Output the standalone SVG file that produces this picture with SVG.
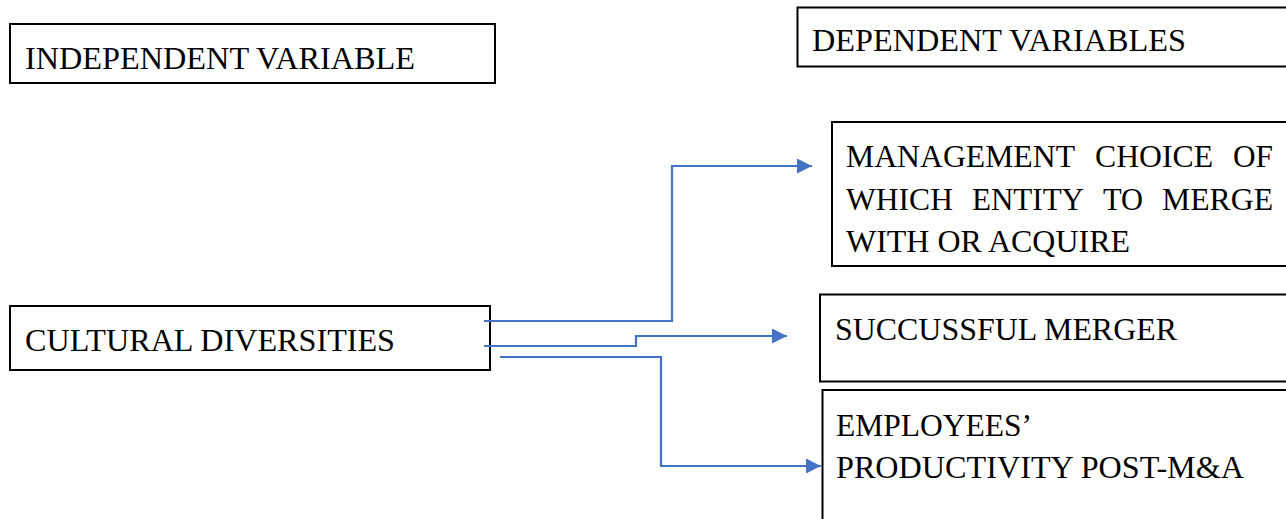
<svg xmlns="http://www.w3.org/2000/svg" width="1286" height="519" viewBox="0 0 1286 519">
<style>
.box{fill:#fff;stroke:#000;stroke-width:2}
.t{font-family:"Liberation Serif","Times New Roman",serif;font-size:31px;fill:#000}
.c{fill:none;stroke:#4472C4;stroke-width:2.2}
</style>
<defs>
<marker id="ah" markerUnits="userSpaceOnUse" markerWidth="16" markerHeight="16" refX="15" refY="7.5" orient="auto">
<path d="M0,0 L15,7.5 L0,15 z" fill="#4472C4"/>
</marker>
</defs>
<rect width="1286" height="519" fill="#fff"/>
<g id="independent">
<rect class="box" x="10" y="24" width="485" height="59"/>
<text class="t" x="25" y="68.5" textLength="390" lengthAdjust="spacingAndGlyphs">INDEPENDENT VARIABLE</text>
</g>
<g id="dependent">
<rect class="box" x="797.5" y="7.5" width="500" height="59"/>
<text class="t" x="812" y="50.5" textLength="374" lengthAdjust="spacingAndGlyphs">DEPENDENT VARIABLES</text>
</g>
<g id="management">
<rect class="box" x="832" y="122" width="470" height="144"/>
<text class="t" y="167"><tspan x="846" textLength="229" lengthAdjust="spacingAndGlyphs">MANAGEMENT</tspan><tspan x="1095" textLength="118" lengthAdjust="spacingAndGlyphs">CHOICE</tspan><tspan x="1233" textLength="40" lengthAdjust="spacingAndGlyphs">OF</tspan></text>
<text class="t" y="209.5"><tspan x="846" textLength="107" lengthAdjust="spacingAndGlyphs">WHICH</tspan><tspan x="972" textLength="112" lengthAdjust="spacingAndGlyphs">ENTITY</tspan><tspan x="1103" textLength="40" lengthAdjust="spacingAndGlyphs">TO</tspan><tspan x="1162" textLength="111" lengthAdjust="spacingAndGlyphs">MERGE</tspan></text>
<text class="t" x="846" y="252" textLength="284" lengthAdjust="spacingAndGlyphs">WITH OR ACQUIRE</text>
</g>
<g id="successful">
<rect class="box" x="820" y="294.5" width="480" height="87"/>
<text class="t" x="835" y="339.5" textLength="342" lengthAdjust="spacingAndGlyphs">SUCCUSSFUL MERGER</text>
</g>
<g id="employees">
<rect class="box" x="822.5" y="390" width="480" height="140"/>
<text class="t" x="836" y="435.5" textLength="196" lengthAdjust="spacingAndGlyphs">EMPLOYEES’</text>
<text class="t" x="836" y="477.5" textLength="408" lengthAdjust="spacingAndGlyphs">PRODUCTIVITY POST-M&amp;A</text>
</g>
<g id="cultural">
<rect class="box" x="10" y="306" width="480" height="64"/>
<text class="t" x="25" y="351" textLength="370" lengthAdjust="spacingAndGlyphs">CULTURAL DIVERSITIES</text>
</g>
<g id="connectors">
<polyline class="c" points="484,321 672,321 672,166 812,166" marker-end="url(#ah)"/>
<polyline class="c" points="484,346 636,346 636,336 787,336" marker-end="url(#ah)"/>
<polyline class="c" points="500,357 661,357 661,466 821,466" marker-end="url(#ah)"/>
</g>
</svg>
